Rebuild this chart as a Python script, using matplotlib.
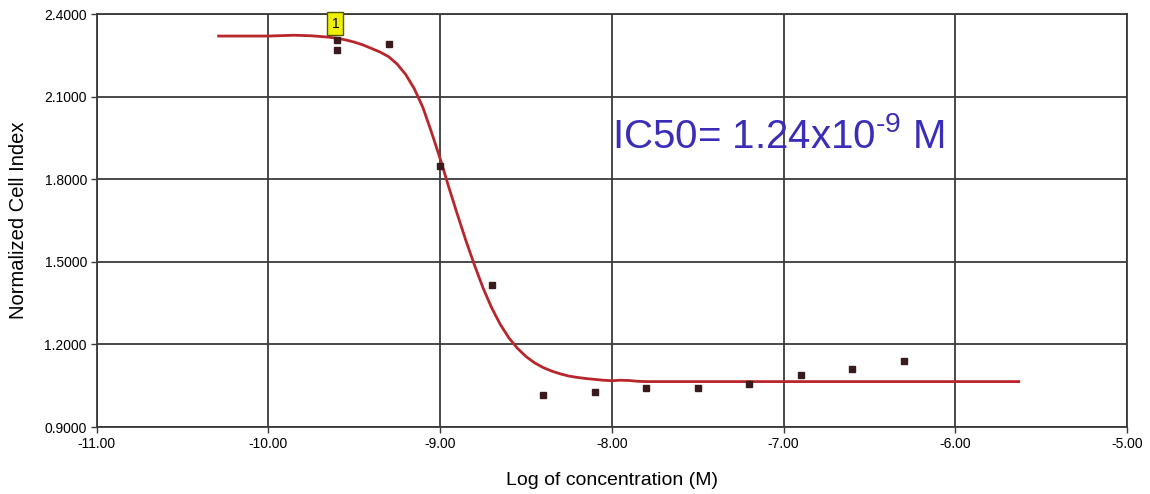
import numpy as np
import matplotlib
matplotlib.use('Agg')
import matplotlib.pyplot as plt

plt.rcParams['font.family'] = ['Liberation Sans', 'DejaVu Sans']
plt.rcParams['mathtext.fontset'] = 'custom'
plt.rcParams['mathtext.rm'] = 'Liberation Sans'
plt.rcParams['mathtext.it'] = 'Liberation Sans:italic'

# measured points (log M, normalized cell index)
log_conc = [-9.6, -9.6, -9.3, -9.0, -8.7, -8.4, -8.1, -7.8, -7.5, -7.2, -6.9, -6.6, -6.3]
cell_index = [2.306, 2.271, 2.290, 1.848, 1.417, 1.016, 1.028, 1.043, 1.043, 1.056, 1.089, 1.109, 1.140]

# fitted curve
fit_x = [-10.29, -10.0, -9.85, -9.75, -9.65, -9.6, -9.55, -9.5, -9.45, -9.4, -9.35, -9.3,
         -9.25, -9.2, -9.15, -9.1, -9.05, -9.0, -8.95, -8.9, -8.85, -8.8, -8.75, -8.7,
         -8.65, -8.6, -8.55, -8.5, -8.45, -8.4, -8.35, -8.3, -8.25, -8.2, -8.15, -8.1,
         -8.05, -8.0, -7.95, -7.9, -7.85, -7.8, -7.0, -6.0, -5.63]
fit_y = [2.320, 2.320, 2.323, 2.321, 2.316, 2.312, 2.306, 2.298, 2.288, 2.275, 2.262, 2.245,
         2.218, 2.180, 2.128, 2.060, 1.970, 1.875, 1.772, 1.673, 1.577, 1.488, 1.405, 1.333,
         1.273, 1.224, 1.186, 1.156, 1.133, 1.116, 1.103, 1.093, 1.085, 1.080, 1.076, 1.073,
         1.070, 1.068, 1.070, 1.069, 1.066, 1.065, 1.065, 1.065, 1.065]

xticks = [-11, -10, -9, -8, -7, -6, -5]
yticks = [0.9, 1.2, 1.5, 1.8, 2.1, 2.4]

fig = plt.figure(figsize=(11.5, 4.94), dpi=100)
ax = fig.add_axes([0.0841, 0.1356, 0.8959, 0.836])

ax.plot(fit_x, fit_y, color='#b8262c', lw=2.0, zorder=3, solid_joinstyle='round')
ax.plot(log_conc, cell_index, ls='none', marker='s', ms=4.5, color='#3a1a1c', zorder=4)

# point label
ax.text(-9.61, 2.365, '1', fontsize=10, ha='center', va='center', zorder=5,
        bbox=dict(boxstyle='square,pad=0.3', fc='#eef000', ec='#555500', lw=1.0))

ax.text(-8.0, 1.955, 'IC50= 1.24x10$^{\\text{-9}}$ M', fontsize=29,
        color='#3b2db8', ha='left', va='center')

ax.set_xlim(-11, -5)
ax.set_ylim(0.9, 2.4)
ax.set_xticks(xticks)
ax.set_yticks(yticks)
ax.set_xticklabels([f'{v:.2f}' for v in xticks])
ax.set_yticklabels([f'{v:.4f}' for v in yticks])
ax.grid(True, color='#3a3a3a', lw=1.3)
ax.set_axisbelow(True)
for s in ax.spines.values():
    s.set_color('#3a3a3a')
    s.set_linewidth(1.3)
ax.tick_params(axis='both', labelsize=10, length=4, width=1.0, color='#3a3a3a', pad=3)

ax.set_xlabel('Log of concentration (M)', fontsize=14, labelpad=15)
ax.set_ylabel('Normalized Cell Index', fontsize=14.5, labelpad=12)

fig.savefig('out.png', dpi=100)
